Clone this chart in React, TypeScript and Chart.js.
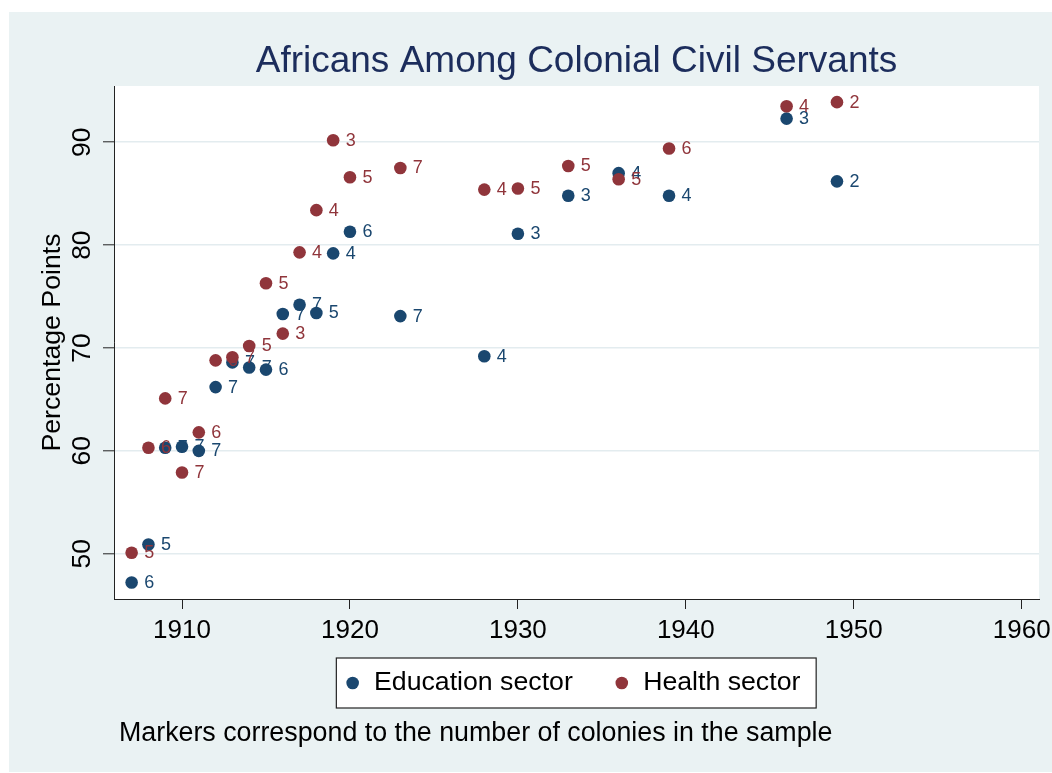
import React, { useEffect, useRef } from "react";
import { Chart, registerables } from "chart.js";

Chart.register(...registerables);

// ---- data ----
const YEARS = [1907, 1908, 1909, 1910, 1911, 1912, 1913, 1914, 1915, 1916, 1917, 1918, 1919, 1920, 1923, 1928, 1930, 1933, 1936, 1939, 1946, 1949];
const EDUCATION_VALUES = [47.2, 50.9, 60.3, 60.4, 60.0, 66.2, 68.6, 68.1, 67.9, 73.3, 74.2, 73.4, 79.2, 81.3, 73.1, 69.2, 81.1, 84.8, 87.0, 84.8, 92.3, 86.2];
const EDUCATION_COLONIES = [6, 5, 7, 7, 7, 7, 7, 7, 6, 7, 7, 5, 4, 6, 7, 4, 3, 3, 4, 4, 3, 2];
const HEALTH_VALUES = [50.1, 60.3, 65.1, 57.9, 61.8, 68.8, 69.1, 70.2, 76.3, 71.4, 79.3, 83.4, 90.2, 86.6, 87.5, 85.4, 85.5, 87.7, 86.4, 89.4, 93.5, 93.9];
const HEALTH_COLONIES = [5, 6, 7, 7, 6, 6, 7, 5, 5, 3, 4, 4, 3, 5, 7, 4, 5, 5, 5, 6, 4, 2];
const X_TICKS = [1910, 1920, 1930, 1940, 1950, 1960];
const Y_TICKS = [50, 60, 70, 80, 90];

const TITLE = "Africans Among Colonial Civil Servants";
const Y_TITLE = "Percentage Points";
const CAPTION = "Markers correspond to the number of colonies in the sample";
const SERIES_NAMES = ["Education sector", "Health sector"];

const FONT = "'Liberation Sans', Arial, Helvetica, sans-serif";
const BLUE = "#1a476f";
const RED = "#90353b";
const BG = "#eaf2f3";

const plotBackground = {
  id: "plotBackground",
  afterLayout(chart: any) {
    // let the x tick labels extend below the (compact) axis box without clipping
    const xs = chart.scales.x;
    if (xs) xs.bottom = xs.top + 48;
    // indent the caption slightly, as in the original
    chart.boxes.forEach((b: any) => {
      if (b && b.options && b.options.text === CAPTION) {
        b.left += 5;
        b.right += 5;
      }
    });
    // the original legend sits slightly left of the plot centre
    const lg = chart.legend;
    if (lg) {
      lg.left -= 4;
      lg.right -= 4;
    }
  },
  beforeDraw(chart: any) {
    const { ctx, chartArea } = chart;
    ctx.save();
    ctx.fillStyle = "#ffffff";
    ctx.fillRect(chartArea.left, chartArea.top, chartArea.right - chartArea.left, chartArea.bottom - chartArea.top);
    // legend frame
    const lg = chart.legend;
    if (lg && lg.lineWidths) {
      const pad = lg.options.labels.padding;
      const fs = lg.options.labels.font.size;
      const startX = (lg.left + pad + lg.right - lg.lineWidths[0]) / 2;
      const endX = startX + lg.lineWidths[0] - pad;
      const cy = lg.top + pad + fs / 2;
      const x0 = startX - 8.3;
      const x1 = endX + 15.8;
      ctx.fillStyle = "#ffffff";
      ctx.fillRect(x0, cy - 25, x1 - x0, 50);
      ctx.strokeStyle = "#222";
      ctx.lineWidth = 1.2;
      ctx.strokeRect(x0, cy - 25, x1 - x0, 50);
    }
    ctx.restore();
  },
};

const markerLabels = {
  id: "markerLabels",
  afterDatasetDraw(chart: any, args: any) {
    const ds: any = chart.data.datasets[args.index];
    const labels: number[] = ds.colonies || [];
    const ctx = chart.ctx;
    ctx.save();
    ctx.font = `18px ${FONT}`;
    ctx.fillStyle = ds.backgroundColor;
    ctx.textAlign = "left";
    ctx.textBaseline = "middle";
    args.meta.data.forEach((pt: any, i: number) => {
      ctx.fillText(String(labels[i]), pt.x + 12.5, pt.y + 0.5);
    });
    ctx.restore();
  },
};

export default function App() {
  const ref = useRef<HTMLCanvasElement>(null);

  useEffect(() => {
    const chart = new Chart(ref.current as HTMLCanvasElement, {
      type: "scatter",
      data: {
        datasets: [
          {
            label: SERIES_NAMES[0],
            data: YEARS.map((x, i) => ({ x, y: EDUCATION_VALUES[i] })),
            backgroundColor: BLUE,
            borderColor: BLUE,
            borderWidth: 0,
            pointRadius: 6.3,
            pointHoverRadius: 6.3,
            order: 2,
            colonies: EDUCATION_COLONIES,
          } as any,
          {
            label: SERIES_NAMES[1],
            data: YEARS.map((x, i) => ({ x, y: HEALTH_VALUES[i] })),
            backgroundColor: RED,
            borderColor: RED,
            borderWidth: 0,
            pointRadius: 6.3,
            pointHoverRadius: 6.3,
            order: 1,
            colonies: HEALTH_COLONIES,
          } as any,
        ],
      },
      options: {
        responsive: false,
        animation: false,
        devicePixelRatio: 1,
        events: [],
        layout: { padding: { left: 0, right: 13, top: 0, bottom: 0 } },
        scales: {
          x: {
            type: "linear",
            min: 1905.95,
            max: 1961.03,
            afterBuildTicks: (s: any) => {
              s.ticks = X_TICKS.map((v) => ({ value: v }));
            },
            afterFit: (s: any) => {
              s.height = 29.65;
              s.paddingLeft = 0;
              s.paddingRight = 0;
            },
            grid: { drawOnChartArea: false, tickLength: 10, tickColor: "#222", tickWidth: 1 },
            border: { display: true, color: "#222", width: 1 },
            ticks: {
              font: { family: FONT, size: 26 },
              color: "#000",
              padding: 6.5,
              autoSkip: false,
              maxRotation: 0,
              minRotation: 0,
              callback: (v: any) => String(v),
            },
          },
          y: {
            type: "linear",
            position: "left",
            min: 45.6,
            max: 95.47,
            afterBuildTicks: (s: any) => {
              s.ticks = Y_TICKS.map((v) => ({ value: v }));
            },
            afterFit: (s: any) => {
              s.width = 105;
              s.paddingTop = 0;
              s.paddingBottom = 0;
            },
            grid: { color: "#e3ecef", lineWidth: 1.6, tickLength: 11, tickColor: "#222", tickWidth: 1 },
            border: { display: true, color: "#222", width: 1 },
            ticks: {
              font: { family: FONT, size: 26.5 },
              color: "#000",
              minRotation: 90,
              maxRotation: 90,
              crossAlign: "center",
              padding: 5.45,
              autoSkip: false,
              callback: (v: any) => String(v),
            },
            title: {
              display: true,
              text: Y_TITLE,
              color: "#000",
              font: { family: FONT, size: 26.7, lineHeight: 1.2 },
              padding: { top: 28, bottom: 0 },
            },
          },
        },
        plugins: {
          tooltip: { enabled: false },
          title: {
            display: true,
            text: TITLE,
            color: "#1c2d5c",
            fullSize: false,
            font: { family: FONT, size: 37, weight: "normal", lineHeight: 1.2 },
            padding: { top: 27.8, bottom: 1.8 },
          },
          legend: {
            display: true,
            position: "bottom",
            fullSize: false,
            labels: {
              usePointStyle: true,
              pointStyle: "circle",
              boxWidth: 16,
              boxHeight: 8.9,
              padding: 41,
              color: "#000",
              font: { family: FONT, size: 26.7 },
              sort: (a: any, b: any) => a.datasetIndex - b.datasetIndex,
            },
          },
          subtitle: {
            display: true,
            position: "bottom",
            align: "start",
            fullSize: false,
            text: CAPTION,
            color: "#000",
            font: { family: FONT, size: 26.8, weight: "normal", lineHeight: 1.2 },
            padding: { top: 11.57, bottom: 21.92 },
          },
        },
      } as any,
      plugins: [plotBackground, markerLabels],
    });
    return () => chart.destroy();
  }, []);

  return (
    <div
      style={{
        position: "absolute",
        left: 9,
        top: 12,
        width: 1043,
        height: 760,
        background: BG,
      }}
    >
      <canvas ref={ref} width={1043} height={760} style={{ display: "block", width: 1043, height: 760 }} />
    </div>
  );
}
